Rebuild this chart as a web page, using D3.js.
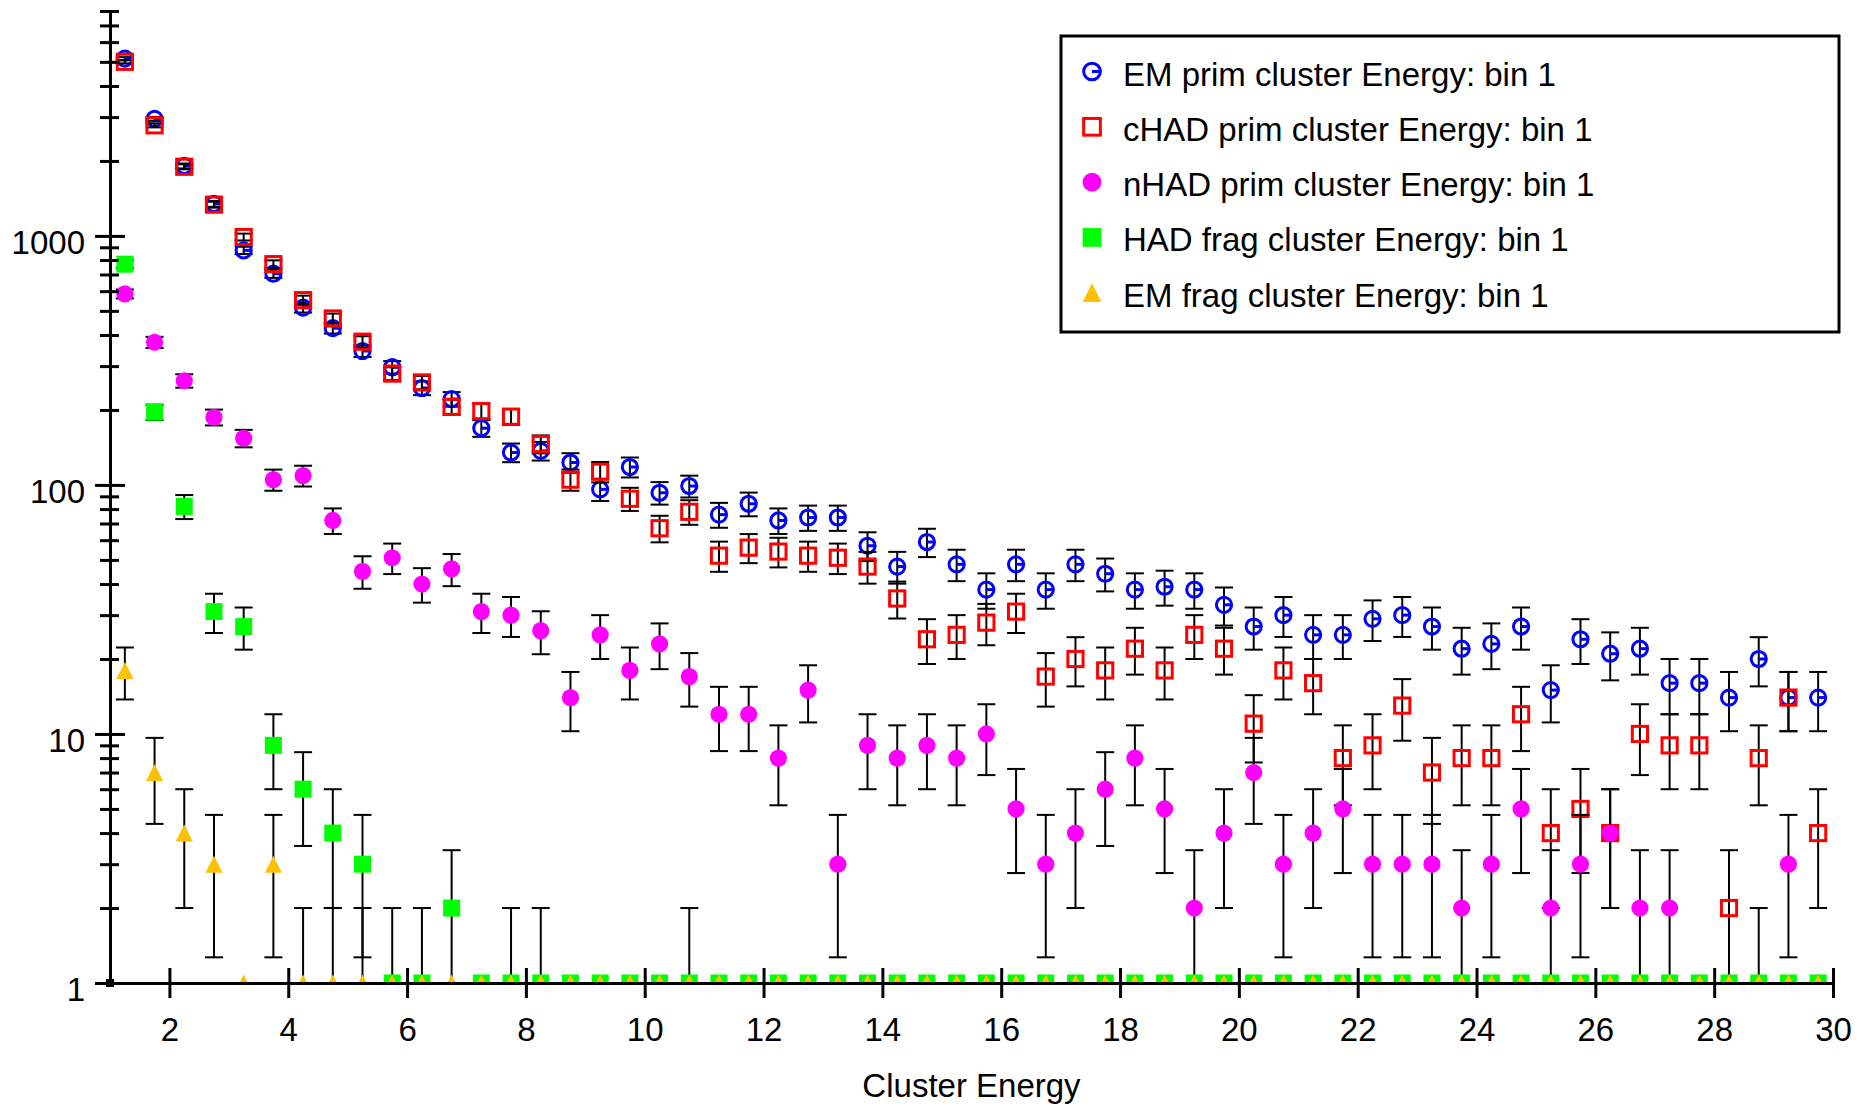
<!DOCTYPE html>
<html>
<head>
<meta charset="utf-8">
<script src="https://cdn.jsdelivr.net/npm/d3@7"></script>
<style>
  html, body { margin: 0; padding: 0; background: #fff; }
  svg { display: block; font-family: "Liberation Sans", Arial, Helvetica, sans-serif; }
</style>
</head>
<body>
<svg id="chart" width="1870" height="1108"></svg>
<script>
// ---- Data (bin centres of Cluster Energy, 0.5 wide bins) ----
const binCenters = [
  1.25, 1.75, 2.25, 2.75, 3.25, 3.75, 4.25, 4.75, 5.25, 5.75,
  6.25, 6.75, 7.25, 7.75, 8.25, 8.75, 9.25, 9.75, 10.25, 10.75,
  11.25, 11.75, 12.25, 12.75, 13.25, 13.75, 14.25, 14.75, 15.25, 15.75,
  16.25, 16.75, 17.25, 17.75, 18.25, 18.75, 19.25, 19.75, 20.25, 20.75,
  21.25, 21.75, 22.25, 22.75, 23.25, 23.75, 24.25, 24.75, 25.25, 25.75,
  26.25, 26.75, 27.25, 27.75, 28.25, 28.75, 29.25, 29.75
];
const emPrim = [
  5150, 2950, 1910, 1345, 875, 705, 515, 426, 345, 297,
  245, 221, 169, 135, 137, 123, 96, 118, 93, 99,
  76, 84, 72, 74, 74, 57, 47, 59, 48, 38,
  48, 38, 48, 44, 38, 39, 38, 33, 27, 30,
  25, 25, 29, 30, 27, 22, 23, 27, 15, 24,
  21, 22, 16, 16, 14, 20, 14, 14
];
const cHadPrim = [
  5000, 2780, 1895, 1335, 990, 770, 552, 466, 376, 280,
  258, 206, 198, 188, 146, 105, 113, 88, 67, 78,
  52, 56, 54, 52, 51, 47, 35, 24, 25, 28,
  31, 17, 20, 18, 22, 18, 25, 22, 11, 18,
  16, 8, 9, 13, 7, 8, 8, 12, 4, 5,
  4, 10, 9, 9, 2, 8, 14, 4
];
const nHadPrim = [
  585, 374, 262, 187, 154, 105, 109, 72, 45, 51,
  40, 46, 31, 30, 26, 14, 25, 18, 23, 17,
  12, 12, 8, 15, 3, 9, 8, 9, 8, 10,
  5, 3, 4, 6, 8, 5, 2, 4, 7, 3,
  4, 5, 3, 3, 3, 2, 3, 5, 2, 3,
  4, 2, 2, 0, 0, 1, 3, 0
];
const hadFrag = [
  770, 196, 82, 31, 27, 9, 6, 4, 3, 1,
  1, 2, 0, 1, 1, 0, 0, 0, 0, 1,
  0, 0, 0, 0, 0, 0, 0, 0, 0, 0,
  0, 0, 0, 0, 0, 0, 0, 0, 0, 0,
  0, 0, 0, 0, 0, 0, 0, 0, 0, 0,
  0, 0, 0, 0, 0, 0, 0, 0
];
const emFrag = [
  18, 7, 4, 3, 0, 3, 1, 1, 1, 0,
  0, 0, 0, 0, 0, 0, 0, 0, 0, 0,
  0, 0, 0, 0, 0, 0, 0, 0, 0, 0,
  0, 0, 0, 0, 0, 0, 0, 0, 0, 0,
  0, 0, 0, 0, 0, 0, 0, 0, 0, 0,
  0, 0, 0, 0, 0, 0, 0, 0
];
const seriesNames = [
  "EM prim cluster Energy: bin 1",
  "cHAD prim cluster Energy: bin 1",
  "nHAD prim cluster Energy: bin 1",
  "HAD frag cluster Energy: bin 1",
  "EM frag cluster Energy: bin 1"
];
const xTickValues = [2, 4, 6, 8, 10, 12, 14, 16, 18, 20, 22, 24, 26, 28, 30];
const yMajorTicks = [1, 10, 100, 1000];
const xTitle = "Cluster Energy";

// ---- Layout ----
const svg = d3.select("#chart");
const X0 = 110, X1 = 1833, Y0 = 983, Y1 = 11;
const x = d3.scaleLinear().domain([1, 30]).range([X0, X1]);
const y = d3.scaleLog().domain([1, 8000]).range([Y0, Y1]);

const series = [
  { name: seriesNames[0], values: emPrim,   color: "#0000ff", shape: "openCircle" },
  { name: seriesNames[1], values: cHadPrim, color: "#ff0000", shape: "openSquare" },
  { name: seriesNames[2], values: nHadPrim, color: "#ff00ff", shape: "circle" },
  { name: seriesNames[3], values: hadFrag,  color: "#00ff00", shape: "square" },
  { name: seriesNames[4], values: emFrag,   color: "#ffc000", shape: "triangle" }
];

// marker drawer
function drawMarker(g, shape, color, s) {
  s = s || 1;
  if (shape === "openCircle") {
    g.append("circle").attr("r", 7.6 * s).attr("fill", "none")
      .attr("stroke", color).attr("stroke-width", 3);
    g.append("line").attr("x1", 0).attr("x2", 7.6 * s).attr("y1", 0).attr("y2", 0)
      .attr("stroke", color).attr("stroke-width", 3);
  } else if (shape === "openSquare") {
    const h = 7.6 * s;
    g.append("rect").attr("x", -h).attr("y", -h).attr("width", 2 * h).attr("height", 2 * h)
      .attr("fill", "none").attr("stroke", color).attr("stroke-width", 3);
  } else if (shape === "circle") {
    g.append("circle").attr("r", 8.6 * s).attr("fill", color);
  } else if (shape === "square") {
    const h = 8.5 * s;
    g.append("rect").attr("x", -h).attr("y", -h).attr("width", 2 * h).attr("height", 2 * h)
      .attr("fill", color);
  } else if (shape === "triangle") {
    const h = 8.5 * s;
    g.append("path").attr("d", `M0,${-h}L${h},${h}L${-h},${h}Z`).attr("fill", color);
  }
}

// clip
svg.append("defs").append("clipPath").attr("id", "plotClip")
  .append("rect").attr("x", X0).attr("y", 0).attr("width", X1 - X0 + 20).attr("height", Y0);

const plot = svg.append("g").attr("clip-path", "url(#plotClip)");

series.forEach(sr => {
  const pts = binCenters.map((c, i) => ({ x: c, v: sr.values[i] }));
  const g = plot.append("g");
  // error bars (sqrt N)
  const withErr = pts.filter(p => p.v > 0);
  const eb = g.selectAll("g.err").data(withErr).join("g").attr("class", "err")
    .attr("stroke", "#000").attr("stroke-width", 2);
  eb.each(function (p) {
    const e = Math.sqrt(p.v);
    const hi = p.v + e, lo = p.v - e;
    const yHi = y(hi);
    const yLo = lo > 0 ? y(lo) : Y0 + 30;
    const cx = x(p.x);
    const sel = d3.select(this);
    sel.append("line").attr("x1", cx).attr("x2", cx).attr("y1", yHi).attr("y2", yLo);
    sel.append("line").attr("x1", cx - 9).attr("x2", cx + 9).attr("y1", yHi).attr("y2", yHi);
    if (lo > 0) sel.append("line").attr("x1", cx - 9).attr("x2", cx + 9).attr("y1", yLo).attr("y2", yLo);
  });
  // markers
  g.selectAll("g.mk").data(pts).join("g").attr("class", "mk")
    .attr("transform", p => `translate(${x(p.x)},${y(Math.max(p.v, 1))})`)
    .each(function () { drawMarker(d3.select(this), sr.shape, sr.color, 1); });
});

// ---- Axes ----
const minorTicks = [];
[1, 10, 100, 1000].forEach(d => { for (let k = 2; k <= 9; k++) if (d * k <= 8000) minorTicks.push(d * k); });
const allY = yMajorTicks.concat(minorTicks);

const gy = svg.append("g").attr("transform", `translate(${X0},0)`)
  .call(d3.axisLeft(y).tickValues(allY).tickSizeOuter(0)
    .tickFormat(d => yMajorTicks.includes(d) ? String(d) : ""));
gy.select(".domain").attr("stroke", "#000").attr("stroke-width", 3);
gy.selectAll(".tick line").attr("stroke", "#000").attr("stroke-width", 3)
  .attr("x1", d => yMajorTicks.includes(d) ? 15 : 9)
  .attr("x2", d => yMajorTicks.includes(d) ? -15 : -10);
gy.selectAll(".tick text").attr("x", -25).attr("y", 7).attr("dy", "0.32em")
  .attr("font-size", 33).attr("fill", "#000")
  .attr("font-family", '"Liberation Sans", Arial, sans-serif');

const gx = svg.append("g").attr("transform", `translate(0,${Y0})`)
  .call(d3.axisBottom(x).tickValues(xTickValues).tickSizeOuter(0).tickFormat(d3.format("d")));
gx.select(".domain").attr("stroke", "#000").attr("stroke-width", 3);
gx.selectAll(".tick line").attr("stroke", "#000").attr("stroke-width", 3)
  .attr("y1", -15).attr("y2", 15);
gx.selectAll(".tick text").attr("y", 35).attr("dy", "0.71em")
  .attr("font-size", 33).attr("fill", "#000")
  .attr("font-family", '"Liberation Sans", Arial, sans-serif');

// small black square at the axes corner
svg.append("rect").attr("x", x(1) - 4).attr("y", y(1) - 4).attr("width", 8).attr("height", 8).attr("fill", "#000");

// x-axis title
svg.append("text").attr("x", (X0 + X1) / 2).attr("y", 1097).attr("text-anchor", "middle")
  .attr("font-size", 33).attr("fill", "#000").text(xTitle);

// ---- Legend ----
const lg = svg.append("g");
lg.append("rect").attr("x", 1061).attr("y", 36).attr("width", 778).attr("height", 296)
  .attr("fill", "#fff").attr("stroke", "#000").attr("stroke-width", 3);
series.forEach((sr, i) => {
  const cy = 73.5 + i * 55.3;
  const mg = lg.append("g").attr("transform", `translate(1092,${cy - 2})`);
  drawMarker(mg, sr.shape, sr.color, 1.1);
  lg.append("text").attr("x", 1123).attr("y", cy + 12).attr("font-size", 33)
    .attr("fill", "#000").text(sr.name);
});
</script>
</body>
</html>
